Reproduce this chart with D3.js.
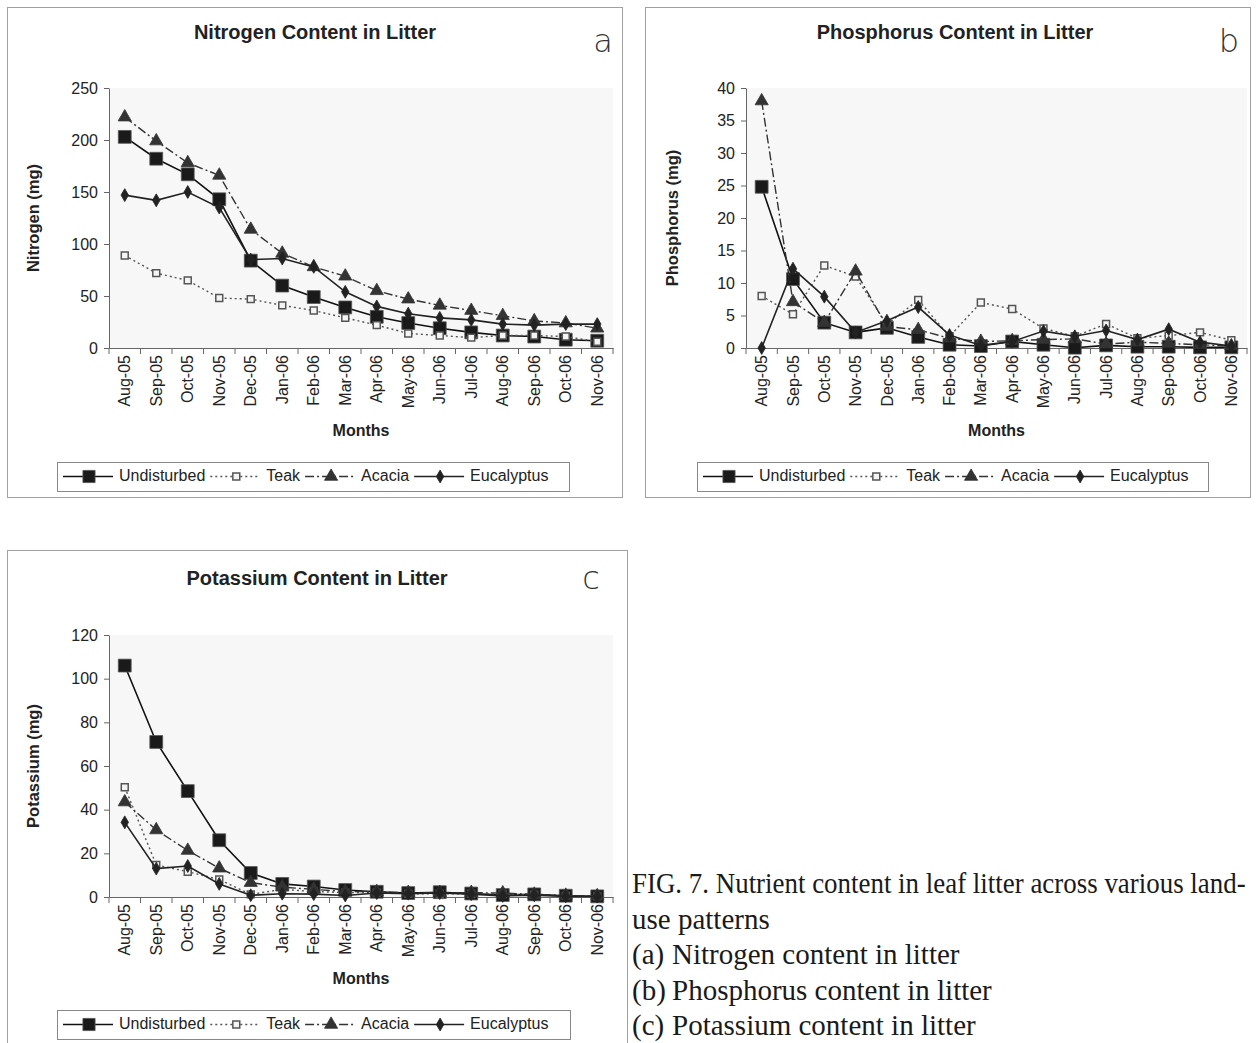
<!DOCTYPE html>
<html>
<head>
<meta charset="utf-8">
<script src="https://cdn.jsdelivr.net/npm/d3@7"></script>
<style>
  body { margin: 0; background: #fff; }
  svg { display: block; }
</style>
</head>
<body>
<svg id="chart" width="1257" height="1043"></svg>
<script>
// months on the x axis
const months = ["Aug-05", "Sep-05", "Oct-05", "Nov-05", "Dec-05", "Jan-06", "Feb-06", "Mar-06",
  "Apr-06", "May-06", "Jun-06", "Jul-06", "Aug-06", "Sep-06", "Oct-06", "Nov-06"];
const seriesNames = ["Undisturbed", "Teak", "Acacia", "Eucalyptus"];

// (a) nitrogen, mg
const nitrogenUndisturbed = [203, 182, 167, 143, 84, 60, 49, 39, 30, 24, 19, 15, 12, 11, 8, 7];
const nitrogenTeak = [89, 72, 65, 48, 47, 41, 36, 29, 22, 14, 12, 10, 12, 12, 11, 6];
const nitrogenAcacia = [222, 199, 178, 166, 114, 91, 78, 69, 55, 47, 41, 36, 31, 26, 24, 19];
const nitrogenEucalyptus = [147, 142, 150, 135, 85, 86, 78, 54, 40, 33, 29, 27, 23, 22, 23, 23];
const nitrogenTicks = [0, 50, 100, 150, 200, 250];

// (b) phosphorus, mg
const phosphorusUndisturbed = [24.8, 10.6, 3.9, 2.4, 3.1, 1.7, 0.5, 0.3, 1.0, 0.5, 0.05, 0.4, 0.2, 0.2, 0.1, 0.1];
const phosphorusTeak = [8.0, 5.2, 12.7, 11.0, 3.6, 7.4, 1.8, 7.0, 6.0, 3.0, 1.8, 3.7, 1.5, 1.9, 2.4, 1.2];
const phosphorusAcacia = [38.0, 7.1, 3.9, 11.8, 3.3, 2.8, 1.5, 1.0, 1.1, 1.3, 1.4, 0.6, 0.9, 0.7, 0.5, 0.3];
const phosphorusEucalyptus = [0, 12.2, 7.9, 2.4, 4.2, 6.3, 2.0, 0.4, 1.0, 2.6, 1.8, 2.7, 1.3, 2.9, 0.9, 0.3];
const phosphorusTicks = [0, 5, 10, 15, 20, 25, 30, 35, 40];

// (c) potassium, mg
const potassiumUndisturbed = [106, 71, 48.5, 26, 11, 6, 4.8, 3.2, 2.4, 1.8, 2.2, 1.6, 0.9, 1.2, 0.6, 0.3];
const potassiumTeak = [50.3, 14.7, 11.6, 8.0, 1.2, 3.5, 2.5, 2.0, 2.0, 1.5, 1.5, 1.5, 1.4, 1.0, 0.5, 0.3];
const potassiumAcacia = [43.5, 30.7, 21.3, 13.2, 6.6, 4.5, 3.5, 2.5, 2.4, 2.0, 2.0, 2.0, 1.8, 1.2, 0.7, 0.5];
const potassiumEucalyptus = [34.2, 13.0, 14.2, 6.0, 0.8, 1.5, 1.3, 0.7, 1.8, 1.5, 1.8, 1.3, 0.5, 0.8, 0.3, 0.2];
const potassiumTicks = [0, 20, 40, 60, 80, 100, 120];

const captionLines = [
  ["FIG. 7. Nutrient content in leaf litter across various land-", ""],
  ["use patterns", ""],
  ["(a)", "Nitrogen content in litter"],
  ["(b)", "Phosphorus content in litter"],
  ["(c)", "Potassium content in litter"]
];

const FONT = "'Liberation Sans', Arial, sans-serif";

const styles = {
  Undisturbed: { stroke: "#111", width: 1.6, dash: null, symbol: d3.symbolSquare, size: 165, fill: "#1a1a1a", mstroke: "#555" },
  Teak:        { stroke: "#555", width: 1.4, dash: "2,3", symbol: d3.symbolSquare, size: 48, fill: "#f4f4f4", mstroke: "#555" },
  Acacia:      { stroke: "#333", width: 1.4, dash: "9,3,2,3", symbol: d3.symbolTriangle, size: 75, fill: "#333", mstroke: "#333" },
  Eucalyptus:  { stroke: "#222", width: 1.6, dash: null, symbol: d3.symbolDiamond, size: 48, fill: "#222", mstroke: "#222" }
};

const panels = [
  {
    title: "Nitrogen Content in Litter", letter: "a", yTitle: "Nitrogen (mg)",
    series: [nitrogenUndisturbed, nitrogenTeak, nitrogenAcacia, nitrogenEucalyptus],
    ticks: nitrogenTicks,
    frame: [7, 7, 615, 490], plot: [109, 88, 613, 348],
    titleAt: [315, 34], letterAt: [603, 43], yTitleX: 35, monthsY: 432,
    legend: [57, 462, 512, 29]
  },
  {
    title: "Phosphorus Content in Litter", letter: "b", yTitle: "Phosphorus (mg)",
    series: [phosphorusUndisturbed, phosphorusTeak, phosphorusAcacia, phosphorusEucalyptus],
    ticks: phosphorusTicks,
    frame: [645, 7, 605, 490], plot: [746, 88, 1247, 348],
    titleAt: [955, 34], letterAt: [1229, 43], yTitleX: 674, monthsY: 432,
    legend: [697, 462, 511, 29]
  },
  {
    title: "Potassium Content in Litter", letter: "c", yTitle: "Potassium (mg)",
    series: [potassiumUndisturbed, potassiumTeak, potassiumAcacia, potassiumEucalyptus],
    ticks: potassiumTicks,
    frame: [7, 550, 620, 510], plot: [109, 635, 613, 897],
    titleAt: [317, 580], letterAt: [591, 580], yTitleX: 35, monthsY: 980,
    legend: [57, 1010, 513, 29]
  }
];

const svg = d3.select("#chart");

function marker(sel, name, scale) {
  const s = styles[name];
  sel.append("path")
    .attr("d", d3.symbol().type(s.symbol).size(s.size * (scale || 1))())
    .attr("fill", s.fill)
    .attr("stroke", s.mstroke)
    .attr("stroke-width", name === "Teak" ? 1.5 : 0.8);
}

function drawPanel(p) {
  const g = svg.append("g");
  const [left, top, right, bottom] = p.plot;

  // frame and plot background
  g.append("rect")
    .attr("x", p.frame[0] + 0.5).attr("y", p.frame[1] + 0.5)
    .attr("width", p.frame[2]).attr("height", p.frame[3])
    .attr("fill", "#fff").attr("stroke", "#a0a0a0");
  g.append("rect")
    .attr("x", left).attr("y", top)
    .attr("width", right - left).attr("height", bottom - top)
    .attr("fill", "#f7f7f7");

  const x = d3.scaleBand().domain(months).range([left, right]);
  const y = d3.scaleLinear().domain([0, d3.max(p.ticks)]).range([bottom, top]);

  // y axis
  const ya = g.append("g")
    .attr("transform", `translate(${left},0)`)
    .call(d3.axisLeft(y).tickValues(p.ticks).tickSize(5).tickSizeOuter(0).tickPadding(6));
  ya.select(".domain").attr("stroke", "#666");
  ya.selectAll(".tick line").attr("stroke", "#666");
  ya.selectAll("text").attr("font-family", FONT).attr("font-size", 16).attr("fill", "#222");

  // x axis, labels rotated, ticks at band boundaries
  const xa = g.append("g")
    .attr("transform", `translate(0,${bottom})`)
    .call(d3.axisBottom(x).tickSize(0).tickSizeOuter(0));
  xa.select(".domain").attr("stroke", "#666");
  xa.selectAll("text")
    .attr("font-family", FONT).attr("font-size", 16).attr("fill", "#222")
    .attr("transform", "rotate(-90)")
    .attr("text-anchor", "end")
    .attr("x", -7).attr("y", 0).attr("dy", "0.35em");
  const bounds = months.map(m => x(m)).concat([right]);
  g.append("g").selectAll("line").data(bounds).join("line")
    .attr("x1", d => d).attr("x2", d => d)
    .attr("y1", bottom).attr("y2", bottom + 6)
    .attr("stroke", "#666");

  // series lines then markers
  seriesNames.forEach((name, i) => {
    const s = styles[name];
    const vals = p.series[i];
    const line = d3.line()
      .x((d, j) => x(months[j]) + x.bandwidth() / 2)
      .y(d => y(d));
    g.append("path")
      .datum(vals)
      .attr("d", line)
      .attr("fill", "none")
      .attr("stroke", s.stroke)
      .attr("stroke-width", s.width)
      .attr("stroke-dasharray", s.dash);
    g.append("g").selectAll("g").data(vals).join("g")
      .attr("transform", (d, j) => `translate(${x(months[j]) + x.bandwidth() / 2},${y(d)})`)
      .each(function () { marker(d3.select(this), name); });
  });

  // titles
  g.append("text")
    .attr("x", p.titleAt[0]).attr("y", p.titleAt[1])
    .attr("text-anchor", "middle").attr("dominant-baseline", "middle")
    .attr("font-family", FONT).attr("font-weight", "bold").attr("font-size", 20).attr("fill", "#222")
    .text(p.title);
  g.append("text")
    .attr("x", p.letterAt[0]).attr("y", p.letterAt[1])
    .attr("text-anchor", "middle").attr("dominant-baseline", "middle")
    .attr("font-family", "'DejaVu Sans', sans-serif").attr("font-weight", 300).attr("font-size", 32).attr("fill", "#333")
    .text(p.letter);
  g.append("text")
    .attr("transform", `translate(${p.yTitleX},${(top + bottom) / 2}) rotate(-90)`)
    .attr("text-anchor", "middle").attr("dominant-baseline", "middle")
    .attr("font-family", FONT).attr("font-weight", "bold").attr("font-size", 16.5).attr("fill", "#222")
    .text(p.yTitle);
  g.append("text")
    .attr("x", (left + right) / 2).attr("y", p.monthsY)
    .attr("text-anchor", "middle").attr("dominant-baseline", "middle")
    .attr("font-family", FONT).attr("font-weight", "bold").attr("font-size", 16).attr("fill", "#222")
    .text("Months");

  // legend
  const [lx, ly, lw, lh] = p.legend;
  const lg = g.append("g");
  lg.append("rect")
    .attr("x", lx + 0.5).attr("y", ly + 0.5).attr("width", lw).attr("height", lh)
    .attr("fill", "#fff").attr("stroke", "#888");
  let cx = lx + 6;
  const cy = ly + lh / 2;
  seriesNames.forEach(name => {
    const s = styles[name];
    const item = lg.append("g");
    item.append("line")
      .attr("x1", cx).attr("x2", cx + 50).attr("y1", cy).attr("y2", cy)
      .attr("stroke", s.stroke).attr("stroke-width", s.width)
      .attr("stroke-dasharray", s.dash);
    item.append("g").attr("transform", `translate(${cx + 26},${cy})`)
      .call(sel => marker(sel, name, name === "Undisturbed" ? 0.9 : 1));
    const t = item.append("text")
      .attr("x", cx + 56).attr("y", cy)
      .attr("dominant-baseline", "middle")
      .attr("font-family", FONT).attr("font-size", 16).attr("fill", "#222")
      .text(name);
    cx += 56 + t.node().getComputedTextLength() + 5;
  });
}

panels.forEach(drawPanel);

// figure caption
const cap = svg.append("g")
  .attr("font-family", "'Liberation Serif', 'DejaVu Serif', serif")
  .attr("font-size", 29).attr("fill", "#1a1a1a");
captionLines.forEach((ln, i) => {
  const yy = 893 + i * 35.5;
  if (ln[1]) {
    cap.append("text").attr("x", 632).attr("y", yy).text(ln[0]);
    cap.append("text").attr("x", 672).attr("y", yy).text(ln[1]);
  } else {
    const t = cap.append("text").attr("x", 0).attr("y", 0).text(ln[0]);
    // first line is set tight in the figure, squeeze it to fit the page width
    const sx = i === 0 ? Math.min(1, 614 / t.node().getComputedTextLength()) : 1;
    t.attr("transform", `translate(632,${yy}) scale(${sx},1)`);
  }
});
</script>
</body>
</html>
